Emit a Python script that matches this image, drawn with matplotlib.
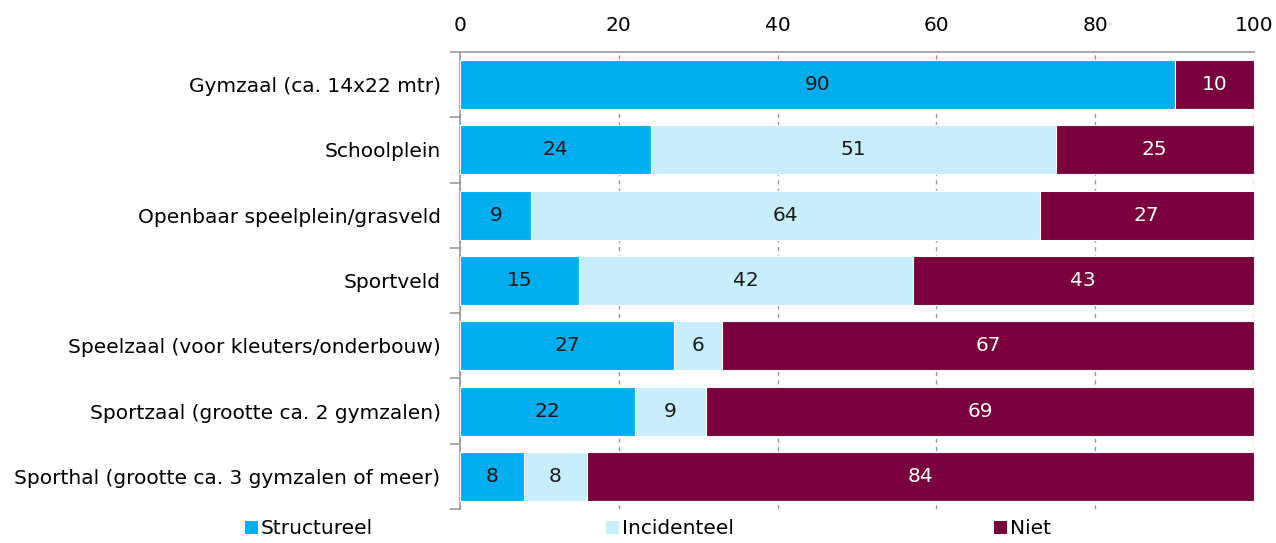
import matplotlib.pyplot as plt
import numpy as np
from matplotlib.patches import Patch

categories = ["Gymzaal (ca. 14x22 mtr)", "Schoolplein", "Openbaar speelplein/grasveld",
              "Sportveld", "Speelzaal (voor kleuters/onderbouw)",
              "Sportzaal (grootte ca. 2 gymzalen)", "Sporthal (grootte ca. 3 gymzalen of meer)"]
structureel = [90, 24, 9, 15, 27, 22, 8]
incidenteel = [0, 51, 64, 42, 6, 9, 8]
niet = [10, 25, 27, 43, 67, 69, 84]
series_names = ["Structureel", "Incidenteel", "Niet"]
xticks = [0, 20, 40, 60, 80, 100]

colors = ["#00AEEF", "#C8EEFC", "#7A003D"]
text_colors = ["#1a1a1a", "#1a1a1a", "white"]
fs = 14.5

fig = plt.figure(figsize=(12.76, 5.43), dpi=100)
ax = fig.add_axes([460 / 1276, 1 - 509 / 543, 794 / 1276, 457 / 543])

y = np.arange(len(categories))
left = np.zeros(len(categories))
for vals, c, tc in zip([structureel, incidenteel, niet], colors, text_colors):
    vals = np.array(vals, dtype=float)
    bars = ax.barh(y, vals, left=left, height=0.75, color=c, edgecolor="white",
                   linewidth=0.8, zorder=3)
    for b, v in zip(bars, vals):
        if v > 0:
            ax.text(b.get_x() + b.get_width() / 2, b.get_y() + b.get_height() / 2,
                    f"{v:.0f}", ha="center", va="center", color=tc, fontsize=fs, zorder=4)
    left += vals

ax.set_xlim(0, 100)
ax.set_ylim(len(categories) - 0.5, -0.5)
ax.xaxis.tick_top()
ax.set_xticks(xticks)
ax.tick_params(axis="x", length=0, pad=12, labelsize=fs)
ax.set_yticks(y)
ax.set_yticklabels(categories)
ax.tick_params(axis="y", which="major", length=0, pad=14, labelsize=fs)
ax.set_yticks(np.arange(-0.5, len(categories)), minor=True)
ax.tick_params(axis="y", which="minor", length=7, color="#999999", width=1.2)
ax.grid(axis="x", color="#999999", linestyle=(0, (3, 3)), linewidth=1, zorder=0)
for s in ["right", "bottom"]:
    ax.spines[s].set_visible(False)
for s in ["top", "left"]:
    ax.spines[s].set_color("#999999")
    ax.spines[s].set_linewidth(1.2)

# legend entries placed one by one, like the original
legend_x = [245, 606, 994]
for name, c, lx in zip(series_names, colors, legend_x):
    fig.legend([Patch(facecolor=c, edgecolor="none")], [name], loc="center left",
               bbox_to_anchor=(lx / 1276, 1 - 529 / 543), frameon=False, fontsize=fs,
               handlelength=0.65, handleheight=0.65, handletextpad=0.15,
               borderpad=0, borderaxespad=0)

fig.savefig("out.png", dpi=100)
